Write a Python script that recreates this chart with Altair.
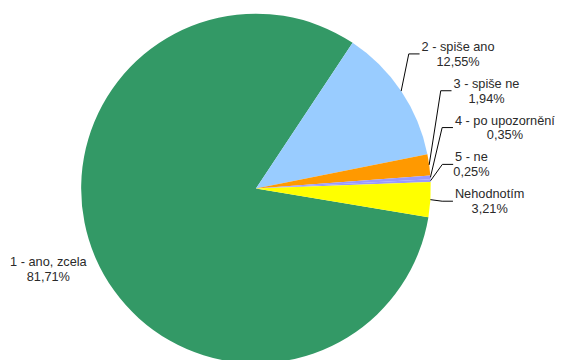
import math
import altair as alt
import pandas as pd

# ---- data ----
labels = ["1 - ano, zcela", "2 - spiše ano", "3 - spiše ne", "4 - po upozornění", "5 - ne", "Nehodnotím"]
values = [81.71, 12.55, 1.94, 0.35, 0.25, 3.21]
colors = ["#339966", "#99CCFF", "#FF9900", "#9999FF", "#9999FF", "#FFFF00"]

# ---- layout constants (pixels inside the chart) ----
W, H = 547, 344
CX, CY = 252.5, 180.5
R = 178
START_DEG = 99.44          # angle (clockwise from 12 o'clock) where the first slice begins
GAP_R = 25                 # label distance outside the rim, right side
GAP_L = 10                 # label distance outside the rim, left side
ROW = 37.5                 # min vertical distance between stacked right-side labels
FONT = "Liberation Sans"
FS = 13

# Arial / Liberation Sans advance widths (1/1000 em)
AW = {" ": 278, "-": 333, ",": 278, "%": 889, "a": 556, "n": 556, "o": 556, "z": 500,
      "c": 500, "e": 556, "l": 222, "s": 500, "p": 556, "i": 222, "š": 500, "u": 556,
      "r": 333, "ě": 556, "í": 278, "N": 722, "h": 556, "d": 556, "t": 278, "m": 833}


def text_w(s):
    return sum(AW.get(ch, 556) for ch in s) * FS / 1000.0


def pct(v):
    return f"{v:.2f}".replace(".", ",") + "%"


total = sum(values)
rows = []
cum = 0.0
for i, (lab, v) in enumerate(zip(labels, values)):
    a0 = START_DEG + cum / total * 360.0
    cum += v
    a1 = START_DEG + cum / total * 360.0
    mid = math.radians((a0 + a1) / 2.0)
    rows.append(dict(idx=i, label=lab, value=v, pct=pct(v), mid=mid,
                     right=math.sin(mid) > 0))

# right-side labels stacked from the bottom up
right = sorted([r for r in rows if r["right"]], key=lambda r: -math.cos(r["mid"]), reverse=True)
prev = None
for r in right:
    ny = CY - (R + GAP_R) * math.cos(r["mid"])
    ly = ny if prev is None else min(ny, prev - ROW)
    prev = ly
    r["lx"] = CX + (R + GAP_R) * math.sin(r["mid"])
    r["ly"] = ly

text_rows, line_rows = [], []
for r in rows:
    w = text_w(r["label"])
    if r["right"]:
        lx, ly = r["lx"], r["ly"]
        text_rows.append(dict(label=r["label"], pct=r["pct"], side="R", nx=lx, ny=ly - 7,
                              px=lx + w / 2.0, py=ly + 8))
        sx = CX + R * math.sin(r["mid"])
        sy = CY - R * math.cos(r["mid"])
        pts = [(sx, sy), (lx - 13, ly), (lx - 2, ly)]
        for k, (x, y) in enumerate(pts):
            line_rows.append(dict(label=r["label"], seq=k, x=x, y=y))
    else:
        rx = CX + (R + GAP_L) * math.sin(r["mid"])
        ry = CY - (R + GAP_L) * math.cos(r["mid"])
        text_rows.append(dict(label=r["label"], pct=r["pct"], side="L", nx=rx, ny=ry,
                              px=rx - w / 2.0, py=ry + 15))

pie_df = pd.DataFrame([dict(idx=r["idx"], label=r["label"], value=r["value"], cx=CX, cy=CY) for r in rows])
text_df = pd.DataFrame(text_rows)
line_df = pd.DataFrame(line_rows)

xs = alt.Scale(domain=[0, W], nice=False, zero=False)
ys = alt.Scale(domain=[H, 0], nice=False, zero=False)

pie = alt.Chart(pie_df).mark_arc(radius=R, strokeWidth=0).encode(
    x=alt.X("cx:Q", scale=xs, axis=None),
    y=alt.Y("cy:Q", scale=ys, axis=None),
    theta=alt.Theta("value:Q", stack=True,
                    scale=alt.Scale(domain=[0, total], range=[math.radians(START_DEG),
                                                              math.radians(START_DEG) + 2 * math.pi])),
    color=alt.Color("label:N", scale=alt.Scale(domain=labels, range=colors), legend=None),
    order=alt.Order("idx:Q"),
)

leaders = alt.Chart(line_df).mark_line(color="#000000", strokeWidth=1).encode(
    x=alt.X("x:Q", scale=xs, axis=None),
    y=alt.Y("y:Q", scale=ys, axis=None),
    detail="label:N",
    order="seq:Q",
)

txt = dict(font=FONT, fontSize=FS, color="#2a2a2a", baseline="middle")

names_r = alt.Chart(text_df).transform_filter(alt.datum.side == "R").mark_text(align="left", **txt).encode(
    x=alt.X("nx:Q", scale=xs, axis=None), y=alt.Y("ny:Q", scale=ys, axis=None), text="label:N")
names_l = alt.Chart(text_df).transform_filter(alt.datum.side == "L").mark_text(align="right", **txt).encode(
    x=alt.X("nx:Q", scale=xs, axis=None), y=alt.Y("ny:Q", scale=ys, axis=None), text="label:N")
pcts = alt.Chart(text_df).mark_text(align="center", **txt).encode(
    x=alt.X("px:Q", scale=xs, axis=None), y=alt.Y("py:Q", scale=ys, axis=None), text="pct:N")

chart = alt.layer(pie, leaders, names_r, names_l, pcts).properties(
    width=W, height=H, padding=0
).configure(background="#ffffff").configure_view(stroke=None, strokeWidth=0)

chart.save("out.html", embed_options={"renderer": "svg", "actions": False})
